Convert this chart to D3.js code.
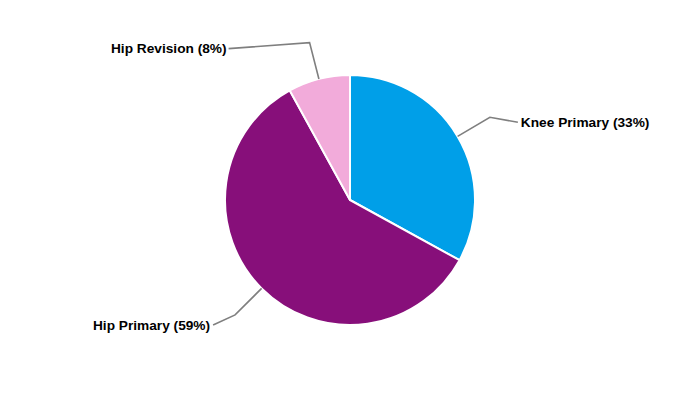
<!DOCTYPE html>
<html><head><meta charset="utf-8">
<script src="https://cdn.jsdelivr.net/npm/d3@7"></script>
<style>html,body{margin:0;padding:0;background:#fff;}</style>
</head><body>
<svg id="c" width="700" height="400"></svg>
<script>
const categories = ["Knee Primary", "Hip Primary", "Hip Revision"];
const values = [33, 59, 8];
const colors = ["#009FE8", "#870F7A", "#F2ABDA"];

const W = 700, H = 400, cx = 350, cy = 200, R = 125;
// label text anchor offsets from leader elbow (layout only)
const labelLayout = [
  {dx: 28, dy: 5, tx: 3, anchor: "start"},
  {dx: -22, dy: 10, tx: -3, anchor: "end"},
  {dx: -81, dy: 6, tx: -2, anchor: "end"}
];

const svg = d3.select("#c");
const g = svg.append("g").attr("transform", `translate(${cx},${cy})`);
const pie = d3.pie().sort(null).value(d => d)(values);
const arc = d3.arc().innerRadius(0).outerRadius(R);

g.selectAll("path.slice").data(pie).enter().append("path")
  .attr("class", "slice")
  .attr("d", arc)
  .attr("fill", (d, i) => colors[i])
  .attr("stroke", "#fff").attr("stroke-width", 2).attr("stroke-linejoin", "round");

pie.forEach((d, i) => {
  const a = (d.startAngle + d.endAngle) / 2;
  const p0 = [R * Math.sin(a), -R * Math.cos(a)];
  const p1 = [1.3 * R * Math.sin(a), -1.3 * R * Math.cos(a)];
  const L = labelLayout[i];
  const p2 = [p1[0] + L.dx, p1[1] + L.dy];
  g.append("polyline")
    .attr("points", [p0, p1, p2].map(p => p.join(",")).join(" "))
    .attr("fill", "none").attr("stroke", "#7f7f7f").attr("stroke-width", 1.6);
  g.append("text")
    .attr("x", p2[0] + L.tx).attr("y", p2[1] + 4.8)
    .attr("text-anchor", L.anchor)
    .attr("font-family", "Liberation Sans, Arial, sans-serif")
    .attr("font-weight", "bold").attr("font-size", 13.7)
    .attr("fill", "#000")
    .text(`${categories[i]} (${values[i]}%)`);
});
</script>
</body></html>
